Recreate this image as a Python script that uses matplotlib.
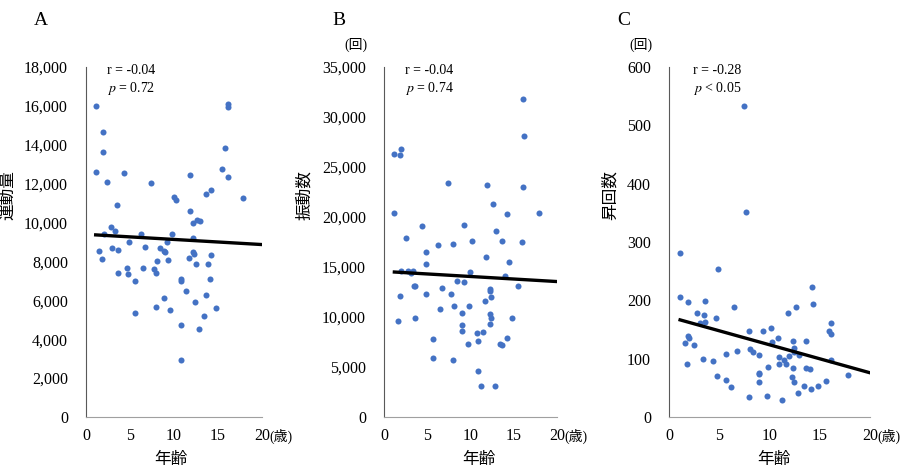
import numpy as np
import matplotlib
matplotlib.use("Agg")
import matplotlib.pyplot as plt
from matplotlib.ticker import StrMethodFormatter

plt.rcParams['font.family'] = ['Liberation Serif', 'Noto Sans CJK JP']
plt.rcParams['mathtext.fontset'] = 'stix'

# Data
age_a = [1.1, 1.9, 1.9, 1.1, 2.4, 3.5, 4.3, 7.4, 2.8, 3.3, 2.0, 3.0, 3.6, 1.5, 1.8,
         4.9, 6.2, 6.7, 3.6, 4.7, 4.8, 6.5, 5.6, 5.6, 7.7, 7.9, 8.1, 8.4, 8.9, 9.0,
         9.2, 9.3, 9.8, 7.9, 8.9, 9.6, 10.0, 10.2, 10.8, 10.8, 10.8, 10.8, 11.4, 11.7,
         11.8, 11.8, 12.2, 12.2, 12.2, 12.3, 12.5, 12.4, 12.6, 12.9, 12.8, 13.4, 13.6,
         13.6, 14.2, 13.9, 14.2, 14.1, 14.8, 15.5, 15.8, 16.1, 16.1, 16.1, 17.8]
val_a = [16000, 14680, 13620, 12580, 12100, 10900, 12560, 12030, 9770, 9570, 9430,
         8710, 8570, 8560, 8130, 9020, 9430, 8740, 7390, 7680, 7340, 7680, 7020, 5360,
         7600, 7430, 8030, 8690, 8540, 8470, 9000, 8090, 9400, 5680, 6130, 5510, 11340,
         11160, 2910, 4710, 7100, 7020, 6490, 8200, 12460, 10590, 9960, 9210, 8500, 8400,
         7870, 5940, 10150, 10100, 4530, 5200, 6260, 11480, 11650, 7870, 8350, 7080, 5610,
         12780, 13840, 12350, 16080, 15950, 11240]

age_b = [1.2, 2.0, 1.9, 1.2, 2.5, 1.8, 1.6, 2.0, 2.8, 3.1, 3.4, 3.5, 3.6, 3.6, 4.4,
         4.8, 4.9, 4.9, 6.2, 6.7, 6.5, 5.7, 5.7, 7.4, 8.0, 7.7, 8.1, 8.0, 8.4, 9.3,
         9.3, 9.0, 9.0, 9.0, 9.8, 9.7, 10.2, 10.0, 10.8, 10.9, 11.4, 10.9, 11.2, 11.9,
         11.8, 11.7, 12.3, 12.3, 12.4, 12.3, 12.4, 12.2, 12.6, 12.9, 12.8, 13.6, 14.2,
         14.4, 14.0, 13.4, 13.6, 14.2, 14.8, 15.5, 15.9, 16.1, 16.2, 16.1, 17.9]
val_b = [26300, 26830, 26200, 20400, 17930, 12100, 9630, 14600, 14600, 14400, 14630,
         13100, 13100, 9900, 19130, 16470, 15330, 12330, 17200, 12930, 10830, 7830, 5900,
         23370, 17270, 12270, 11070, 5670, 13600, 19200, 13470, 10400, 9230, 8600, 11100,
         7270, 17630, 14500, 8370, 7630, 8470, 4570, 3100, 23230, 16000, 11600, 12800,
         12600, 12030, 10300, 9870, 9270, 21330, 18570, 3100, 17630, 20270, 15470, 14100,
         7330, 7170, 7900, 9900, 13070, 17500, 31800, 28070, 22970, 20400]

age_c = [1.1, 1.1, 1.9, 1.6, 1.9, 2.0, 2.5, 1.8, 2.8, 3.1, 3.6, 3.5, 3.6, 3.4, 4.4,
         4.7, 4.9, 4.8, 5.7, 5.7, 6.2, 6.5, 6.8, 7.5, 7.7, 8.0, 8.1, 8.4, 8.0, 9.0,
         9.0, 9.0, 9.0, 9.4, 9.8, 9.7, 10.1, 10.2, 10.8, 10.9, 10.9, 11.2, 11.4, 11.6,
         11.8, 11.9, 12.3, 12.4, 12.4, 12.3, 12.2, 12.4, 12.6, 12.9, 12.8, 13.4, 13.6,
         13.6, 14.0, 14.2, 14.3, 14.1, 14.8, 15.6, 15.9, 16.1, 16.1, 16.1, 17.8]
val_c = [281, 205, 197, 127, 139, 136, 124, 91, 178, 162, 199, 175, 163, 100, 96,
         169, 253, 70, 108, 63, 51, 188, 113, 533, 351, 147, 117, 111, 35, 107,
         76, 73, 60, 147, 85, 36, 152, 128, 135, 103, 91, 29, 97, 91, 178, 105,
         131, 119, 112, 84, 68, 60, 189, 107, 41, 54, 130, 84, 83, 223, 194, 48,
         53, 62, 147, 161, 142, 97, 72]

panels = [
    dict(letter="A", x=age_a, y=val_a, ylabel="運動量", ymax=18000, ystep=2000,
         r="r = -0.04", p="$p$ = 0.72", unit=False,
         rect=[0.0944, 0.1165, 0.1932, 0.7415], ylab_x=-0.398, xlab_x=0.48),
    dict(letter="B", x=age_b, y=val_b, ylabel="振動数", ymax=35000, ystep=5000,
         r="r = -0.04", p="$p$ = 0.74", unit=True,
         rect=[0.4215, 0.1165, 0.1899, 0.7415], ylab_x=-0.41, xlab_x=0.55),
    dict(letter="C", x=age_c, y=val_c, ylabel="昇回数", ymax=600, ystep=100,
         r="r = -0.28", p="$p$ < 0.05", unit=True,
         rect=[0.7344, 0.1165, 0.2206, 0.7415], ylab_x=-0.249, xlab_x=0.52),
]

fig = plt.figure(figsize=(9.11, 4.72), dpi=100)

for pnl in panels:
    ax = fig.add_axes(pnl["rect"])
    x = np.array(pnl["x"])
    y = np.array(pnl["y"])
    ax.scatter(x, y, s=19, color="#4472C4", zorder=3, linewidths=0)

    # linear trendline, from youngest child forward to 20
    slope, icpt = np.polyfit(x, y, 1)
    xs = np.array([x.min(), 20])
    ax.plot(xs, slope * xs + icpt, color="black", lw=2.4, zorder=4)

    ax.set_xlim(0, 20)
    ax.set_ylim(0, pnl["ymax"])
    ax.set_xticks([0, 5, 10, 15, 20])
    ax.set_yticks(np.arange(0, pnl["ymax"] + 1, pnl["ystep"]))
    ax.yaxis.set_major_formatter(StrMethodFormatter("{x:,.0f}"))
    ax.tick_params(length=0, labelsize=11.5)
    ax.tick_params(axis="y", pad=13)
    ax.tick_params(axis="x", pad=8)
    for s in ["top", "right"]:
        ax.spines[s].set_visible(False)
    ax.spines["left"].set_color("#595959")
    ax.spines["bottom"].set_color("#a0a0a0")

    ax.set_ylabel(pnl["ylabel"], fontsize=12)
    ax.yaxis.set_label_coords(pnl["ylab_x"], 0.634)
    ax.set_xlabel("年齢", fontsize=12)
    ax.xaxis.set_label_coords(pnl["xlab_x"], -0.1)

    ax.text(0.12, 0.99, pnl["r"], transform=ax.transAxes, fontsize=10,
            ha="left", va="center")
    ax.text(0.12, 0.94, pnl["p"], transform=ax.transAxes, fontsize=10,
            ha="left", va="center")

    ax.annotate("(歳)", xy=(20, 0), xycoords="data", xytext=(7, -19),
                textcoords="offset pixels", ha="left", va="center", fontsize=10)
    if pnl["unit"]:
        ax.annotate("(回)", xy=(0, pnl["ymax"]), xycoords="data", xytext=(-28, 22),
                    textcoords="offset pixels", ha="center", va="center", fontsize=10)
    ax.annotate(pnl["letter"], xy=(0, pnl["ymax"]), xycoords="data", xytext=(-45, 47),
                textcoords="offset pixels", ha="center", va="center", fontsize=14)

fig.savefig("out.png", dpi=100)
